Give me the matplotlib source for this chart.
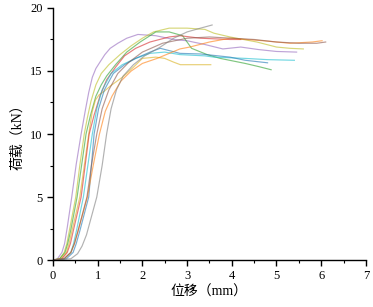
import matplotlib.pyplot as plt
from matplotlib.ticker import MultipleLocator

plt.rcParams['font.family'] = ['Liberation Serif', 'Noto Sans CJK SC']

# 位移 (mm) / 荷载 (kN) 曲线
purple_x = [0, 0.1, 0.2, 0.26, 0.32, 0.42, 0.52, 0.63, 0.72, 0.8, 0.88, 0.96, 1.05, 1.16, 1.28, 1.45, 1.65, 1.9, 2.3, 2.7, 3.0, 3.4, 3.8, 4.2, 4.6, 5.0, 5.45]
purple_y = [0, 0.1, 0.6, 1.3, 2.6, 5, 7.6, 10, 11.8, 13.3, 14.5, 15.2, 15.7, 16.3, 16.8, 17.2, 17.6, 17.9, 17.8, 17.5, 17.4, 17.1, 16.75, 16.9, 16.7, 16.55, 16.5]

olive_x = [0, 0.15, 0.25, 0.31, 0.37, 0.51, 0.6, 0.7, 0.77, 0.85, 0.96, 1.08, 1.25, 1.5, 1.75, 2.0, 2.25, 2.6, 3.0, 3.4, 3.6, 3.96, 4.56, 5.0, 5.3, 5.6]
olive_y = [0, 0.1, 0.6, 1.3, 2.4, 5, 7.5, 10, 11.3, 12.6, 13.9, 14.8, 15.5, 16.3, 17.0, 17.6, 18.1, 18.4, 18.4, 18.3, 18.0, 17.7, 17.3, 16.9, 16.8, 16.75]

green_x = [0, 0.15, 0.27, 0.33, 0.4, 0.54, 0.64, 0.74, 0.84, 0.96, 1.08, 1.2, 1.4, 1.65, 1.95, 2.3, 2.6, 2.9, 3.1, 3.45, 3.74, 4.3, 4.6, 4.88]
green_y = [0, 0.1, 0.6, 1.3, 2.4, 5, 7.5, 10, 11.5, 13.0, 13.9, 14.6, 15.5, 16.5, 17.3, 18.1, 18.1, 17.8, 16.8, 16.3, 16.0, 15.6, 15.35, 15.1]

gold_x = [0, 0.18, 0.3, 0.36, 0.43, 0.6, 0.7, 0.8, 0.88, 0.95, 1.03, 1.15, 1.28, 1.55, 1.8, 2.0, 2.3, 2.5, 2.7, 2.85, 3.2, 3.53]
gold_y = [0, 0.1, 0.6, 1.3, 2.4, 5, 7.5, 10, 11.8, 12.7, 13.1, 13.4, 13.8, 14.5, 15.3, 16.0, 16.1, 16.0, 15.7, 15.5, 15.5, 15.5]

red_x = [0, 0.2, 0.32, 0.39, 0.46, 0.63, 0.72, 0.81, 0.92, 1.05, 1.2, 1.4, 1.6, 1.85, 2.17, 2.6, 2.84, 3.3, 3.96, 4.2]
red_y = [0, 0.1, 0.6, 1.3, 2.4, 5, 7.5, 10, 11.5, 13.0, 14.3, 15.3, 16.2, 16.8, 17.3, 17.7, 17.8, 17.6, 17.5, 17.5]

cyan_x = [0, 0.25, 0.4, 0.46, 0.53, 0.68, 0.78, 0.88, 0.98, 1.1, 1.3, 1.55, 1.85, 2.17, 2.5, 2.84, 3.4, 3.6, 4.3, 4.8, 5.4]
cyan_y = [0, 0.1, 0.6, 1.3, 2.4, 5, 7.5, 10, 12.0, 13.5, 14.8, 15.5, 16.0, 16.4, 16.5, 16.3, 16.2, 16.1, 16.0, 15.9, 15.85]

blue_x = [0, 0.3, 0.45, 0.52, 0.6, 0.8, 0.86, 0.92, 1.02, 1.15, 1.35, 1.6, 1.85, 2.17, 2.4, 2.62, 2.84, 3.3, 3.96, 4.3, 4.8]
blue_y = [0, 0.1, 0.6, 1.3, 2.3, 5, 7.5, 10, 12.0, 13.5, 14.8, 15.5, 16.0, 16.5, 16.8, 16.6, 16.4, 16.35, 16.1, 15.85, 15.65]

orange_x = [0, 0.25, 0.4, 0.48, 0.56, 0.77, 0.9, 1.04, 1.17, 1.32, 1.52, 1.75, 2.0, 2.33, 2.84, 3.06, 3.5, 3.96, 4.7, 5.3, 5.8, 6.02]
orange_y = [0, 0.1, 0.6, 1.3, 2.3, 5, 7.5, 10, 11.8, 13.0, 14.2, 15.0, 15.6, 16.0, 16.75, 16.9, 17.3, 17.6, 17.4, 17.2, 17.3, 17.4]

brown_x = [0, 0.25, 0.4, 0.48, 0.56, 0.76, 0.86, 0.98, 1.1, 1.25, 1.45, 1.7, 2.0, 2.45, 3.0, 3.5, 4.0, 4.5, 5.0, 5.5, 5.9, 6.1]
brown_y = [0, 0.1, 0.6, 1.3, 2.3, 5, 7.5, 10, 12.0, 13.5, 14.8, 15.7, 16.5, 17.2, 17.6, 17.7, 17.6, 17.5, 17.3, 17.2, 17.2, 17.3]

gray_x = [0, 0.4, 0.55, 0.65, 0.75, 0.98, 1.1, 1.2, 1.3, 1.42, 1.57, 1.8, 2.05, 2.4, 2.7, 3.0, 3.3, 3.56]
gray_y = [0, 0.1, 0.5, 1.1, 2.0, 5, 7.5, 10, 12.0, 13.5, 14.6, 15.5, 16.2, 16.9, 17.6, 18.1, 18.4, 18.65]

curvas = [
    (purple_x, purple_y, 'tab:purple'),
    (olive_x, olive_y, 'tab:olive'),
    (green_x, green_y, 'tab:green'),
    (gold_x, gold_y, '#d9b01c'),
    (red_x, red_y, 'tab:red'),
    (cyan_x, cyan_y, 'tab:cyan'),
    (blue_x, blue_y, 'tab:blue'),
    (orange_x, orange_y, 'tab:orange'),
    (brown_x, brown_y, 'tab:brown'),
    (gray_x, gray_y, 'tab:gray'),
]

fig = plt.figure(figsize=(3.73, 3.07), dpi=100)
ax = fig.add_axes([0.142, 0.153, 0.839, 0.821])
for x, y, cor in curvas:
    ax.plot(x, y, color=cor, linewidth=0.85, alpha=0.6)

ax.set_xlim(0, 7)
ax.set_ylim(0, 20)
ax.xaxis.set_major_locator(MultipleLocator(1))
ax.xaxis.set_minor_locator(MultipleLocator(0.5))
ax.yaxis.set_major_locator(MultipleLocator(5))
ax.yaxis.set_minor_locator(MultipleLocator(2.5))
ax.spines['top'].set_visible(False)
ax.spines['right'].set_visible(False)
ax.spines['left'].set_linewidth(1.0)
ax.spines['bottom'].set_linewidth(1.0)
ax.tick_params(which='major', direction='out', length=4, width=1, labelsize=9)
ax.tick_params(which='minor', direction='out', length=2, width=0.8)
ax.set_xlabel('位移（mm）', fontsize=10, labelpad=2)
ax.set_ylabel('荷载（kN）', fontsize=10, labelpad=4)

plt.savefig('out.png', dpi=100)
